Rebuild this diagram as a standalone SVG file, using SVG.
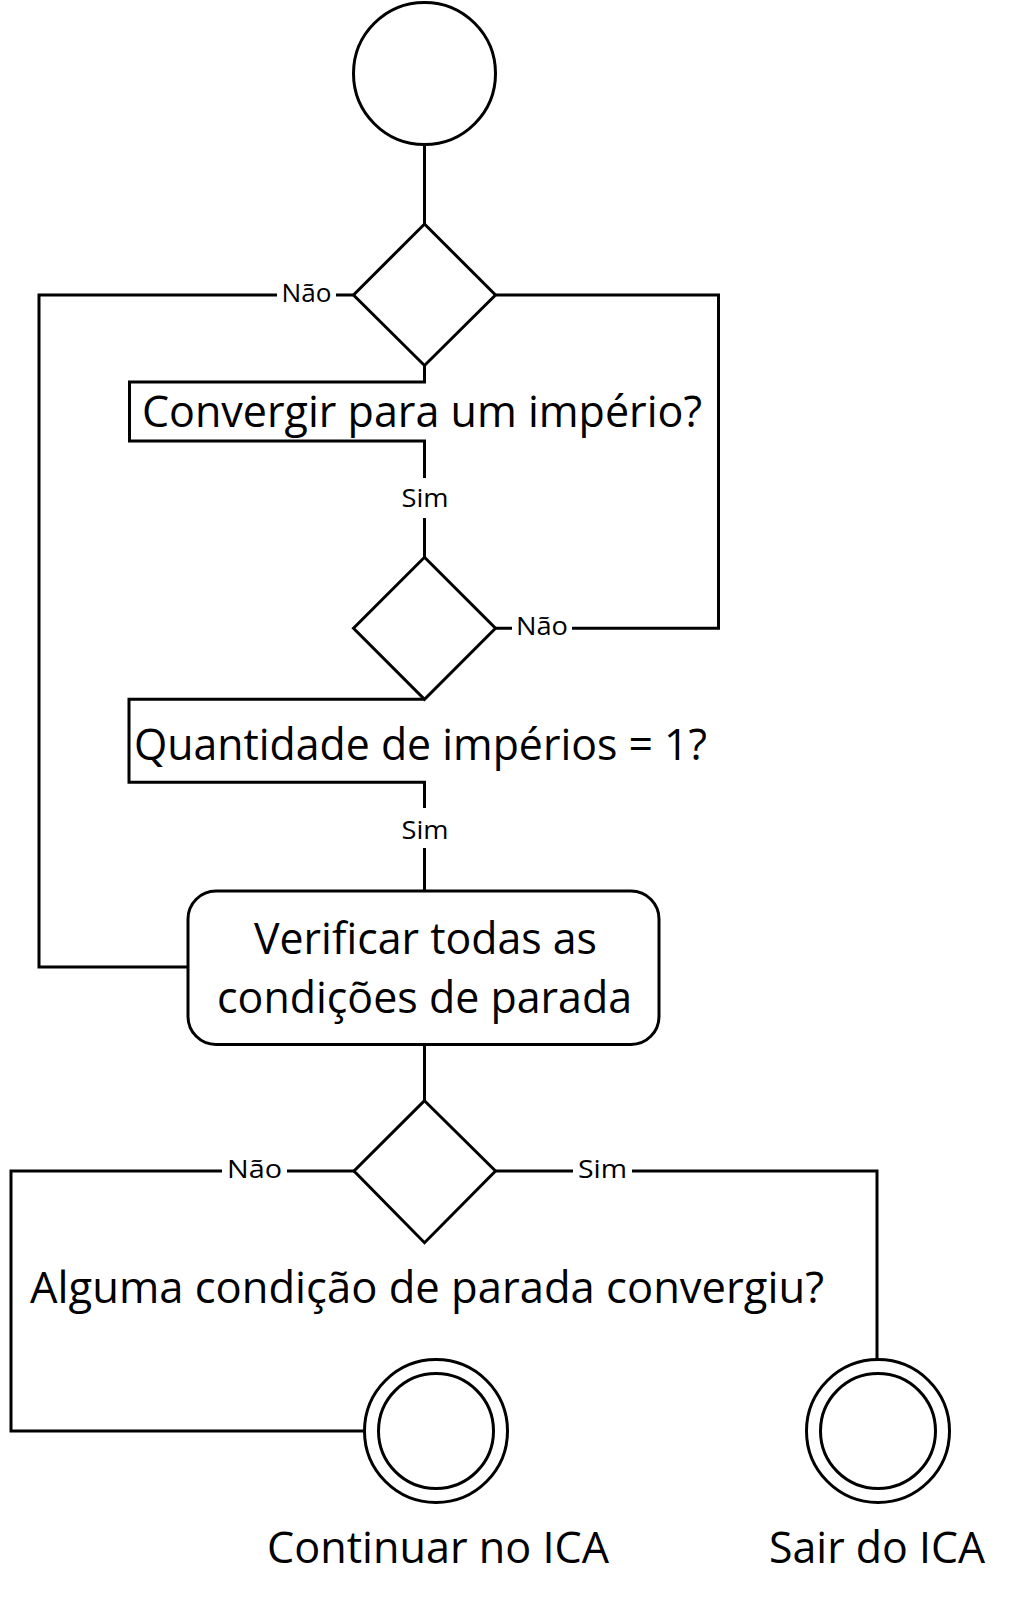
<svg xmlns="http://www.w3.org/2000/svg" width="1013" height="1603" viewBox="0 0 1013 1603">
<style>
.s{fill:none;stroke:#000;stroke-width:3;stroke-linejoin:miter}
.n{fill:#fff;stroke:#000;stroke-width:3}
.t{font-family:"Open Sans","Liberation Sans",sans-serif;font-size:43px;fill:#000}
.l{font-family:"Open Sans","Liberation Sans",sans-serif;font-size:26px;fill:#000}
</style>
<rect width="1013" height="1603" fill="#fff"/>
<g id="connectors">
<path class="s" d="M424.5,145 V224"/>
<path class="s" d="M353.5,295 H336 M277,295 H39 V967 H188"/>
<path class="s" d="M495.5,295 H718.5 V628.3 H572 M512,628.3 H495.5"/>
<path class="s" d="M424.5,365.5 V382 H129.5 V441 H424.5 V478 M424.5,518 V557.3"/>
<path class="s" d="M424.5,699.3 H129 V782.3 H424.5 V808 M424.5,848 V891"/>
<path class="s" d="M424.5,1044.5 V1100.7"/>
<path class="s" d="M354,1171 H287 M222,1171 H11 V1431 H365"/>
<path class="s" d="M495.5,1171 H573 M632,1171 H877 V1359.5"/>
</g>
<g id="start">
<circle class="n" cx="424.5" cy="73.5" r="71"/>
</g>
<g id="decision1">
<polygon class="n" points="424.5,224 495.5,295 424.5,365.5 353.5,295"/>
<text class="t" x="142" y="427" textLength="560" lengthAdjust="spacingAndGlyphs">Convergir para um império?</text>
</g>
<g id="decision2">
<polygon class="n" points="424.5,557.3 495.5,628.3 424.5,699.3 353.5,628.3"/>
<text class="t" x="134" y="760" textLength="573" lengthAdjust="spacingAndGlyphs">Quantidade de impérios = 1?</text>
</g>
<g id="verify">
<rect class="n" x="188" y="891" width="471" height="153.5" rx="28" ry="28"/>
<text class="t" x="254" y="954" textLength="343" lengthAdjust="spacingAndGlyphs">Verificar todas as</text>
<text class="t" x="217" y="1013" textLength="415" lengthAdjust="spacingAndGlyphs">condições de parada</text>
</g>
<g id="decision3">
<polygon class="n" points="424.5,1100.7 495.5,1171 424.5,1242.7 354,1171"/>
<text class="t" x="30" y="1303" textLength="794" lengthAdjust="spacingAndGlyphs">Alguma condição de parada convergiu?</text>
</g>
<g id="end-continue">
<circle class="n" cx="436" cy="1431" r="71.5"/>
<circle class="n" cx="436" cy="1431" r="57.5"/>
<text class="t" x="267" y="1563" textLength="342" lengthAdjust="spacingAndGlyphs">Continuar no ICA</text>
</g>
<g id="end-exit">
<circle class="n" cx="878" cy="1431" r="71.5"/>
<circle class="n" cx="878" cy="1431" r="57.5"/>
<text class="t" x="769" y="1563" textLength="216" lengthAdjust="spacingAndGlyphs">Sair do ICA</text>
</g>
<g id="labels">
<text class="l" x="281.5" y="301.5" textLength="50" lengthAdjust="spacingAndGlyphs">Não</text>
<text class="l" x="401.5" y="506.5" textLength="47" lengthAdjust="spacingAndGlyphs">Sim</text>
<text class="l" x="516" y="635" textLength="52" lengthAdjust="spacingAndGlyphs">Não</text>
<text class="l" x="401.5" y="839" textLength="47" lengthAdjust="spacingAndGlyphs">Sim</text>
<text class="l" x="227" y="1178" textLength="55" lengthAdjust="spacingAndGlyphs">Não</text>
<text class="l" x="578" y="1178" textLength="49" lengthAdjust="spacingAndGlyphs">Sim</text>
</g>
</svg>
